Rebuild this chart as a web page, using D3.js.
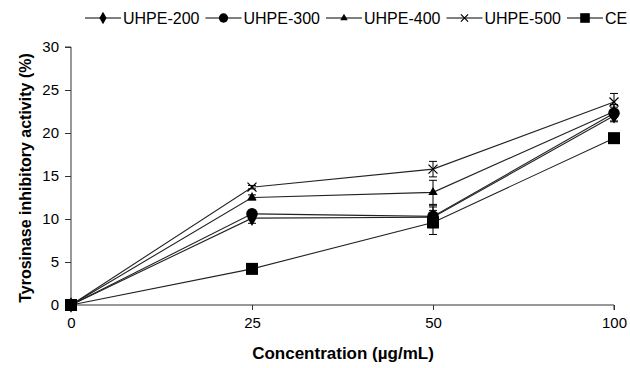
<!DOCTYPE html>
<html>
<head>
<meta charset="utf-8">
<script src="https://cdn.jsdelivr.net/npm/d3@7"></script>
<style>
  body { margin: 0; background: #fff; }
  text { font-family: 'Liberation Sans', Arial, sans-serif; fill: #000; }
</style>
</head>
<body>
<svg id="chart" width="630" height="368"></svg>
<script>
// data
var concentrations = ['0', '25', '50', '100']
var seriesNames = ['UHPE-200', 'UHPE-300', 'UHPE-400', 'UHPE-500', 'CE']
var uhpe200 = [0, 10.1, 10.2, 22.0]
var uhpe300 = [0, 10.6, 10.3, 22.3]
var uhpe400 = [0, 12.5, 13.1, 22.5]
var uhpe500 = [0, 13.7, 15.8, 23.6]
var ce = [0, 4.2, 9.6, 19.4]
var err200 = [0, 0.6, 1.2, 0.6]
var err300 = [0, 0.4, 1.3, 1.0]
var err400 = [0, 0.3, 1.4, 0.5]
var err500 = [0, 0.2, 0.9, 1.0]
var errCE = [0, 0.2, 1.4, 0.4]
var yTicks = [0, 5, 10, 15, 20, 25, 30]

var series = [
  {name: seriesNames[0], values: uhpe200, err: err200, shape: 'diamond'},
  {name: seriesNames[1], values: uhpe300, err: err300, shape: 'circle'},
  {name: seriesNames[2], values: uhpe400, err: err400, shape: 'triangle'},
  {name: seriesNames[3], values: uhpe500, err: err500, shape: 'cross'},
  {name: seriesNames[4], values: ce, err: errCE, shape: 'square'}
]

var svg = d3.select('#chart')

var x = d3.scalePoint()
    .domain(concentrations)
    .range([71, 614])

var y = d3.scaleLinear()
    .domain([0, 30])
    .range([305, 47])

// marker paths, drawn centred on 0,0
function marker (g, shape, big) {
  var k = big ? 1 : 0.8
  if (shape === 'diamond') {
    g.append('path').attr('d', d3.symbol(d3.symbolDiamond, 70 * k * k)())
  } else if (shape === 'circle') {
    g.append('circle').attr('r', 5.8 * k)
  } else if (shape === 'triangle') {
    g.append('path').attr('d', d3.symbol(d3.symbolTriangle, 38 * k * k)())
  } else if (shape === 'cross') {
    var s = 4.5 * k
    g.append('path')
        .attr('d', `M${-s},${-s}L${s},${s}M${-s},${s}L${s},${-s}`)
        .attr('stroke', '#000')
        .attr('stroke-width', 1.2)
        .attr('fill', 'none')
  } else {
    g.append('rect')
        .attr('x', -6 * k).attr('y', -6 * k)
        .attr('width', 12 * k).attr('height', 12 * k)
  }
}

/*
    Axes
*/
var xAxis = d3.axisBottom(x).tickSize(5).tickPadding(7)
var gx = svg.append('g')
    .attr('transform', 'translate(0,305)')
    .call(xAxis)
gx.select('.domain').attr('d', 'M71,0H614V5')
gx.selectAll('text').style('font-size', '15px')

var yAxis = d3.axisLeft(y).tickValues(yTicks).tickSize(6).tickPadding(6)
var gy = svg.append('g')
    .attr('transform', 'translate(71,0)')
    .call(yAxis)
gy.select('.domain').attr('d', 'M-6,47H0V305')
gy.selectAll('text').style('font-size', '15px')

svg.selectAll('.domain, .tick line').attr('stroke', '#333').attr('stroke-width', 1)

svg.append('text')
    .attr('x', 343)
    .attr('y', 359)
    .attr('text-anchor', 'middle')
    .style('font-size', '17px')
    .style('font-weight', 'bold')
    .text('Concentration (µg/mL)')

svg.append('text')
    .attr('transform', 'translate(31,178) rotate(-90)')
    .attr('text-anchor', 'middle')
    .style('font-size', '16px')
    .style('font-weight', 'bold')
    .text('Tyrosinase inhibitory activity (%)')

/*
    Lines, error bars, markers
*/
var line = d3.line()
    .x((d, i) => x(concentrations[i]))
    .y(d => y(d))

var groups = svg.append('g').selectAll('g.series')
    .data(series)
    .join('g')
    .classed('series', true)

groups.append('path')
    .attr('d', d => line(d.values))
    .attr('fill', 'none')
    .attr('stroke', '#222')
    .attr('stroke-width', 1.1)

groups.each(function (s) {
  var g = d3.select(this)
  s.values.forEach(function (v, i) {
    var cx = x(concentrations[i])
    var e = s.err[i]
    if (e > 0) {
      g.append('path')
          .attr('d', `M${cx},${y(v - e)}V${y(v + e)}M${cx - 4},${y(v - e)}H${cx + 4}M${cx - 4},${y(v + e)}H${cx + 4}`)
          .attr('stroke', '#000')
          .attr('stroke-width', 1)
    }
    var m = g.append('g').attr('transform', `translate(${cx},${y(v)})`)
    marker(m, s.shape, true)
  })
})

/*
    Legend
*/
var legend = svg.append('g').selectAll('g.item')
    .data(series)
    .join('g')
    .classed('item', true)
    .attr('transform', (d, i) => `translate(${85 + i * 120.5},18)`)

legend.append('line')
    .attr('x1', 0).attr('x2', 36)
    .attr('stroke', '#000')
    .attr('stroke-width', 1.2)

legend.each(function (s) {
  var m = d3.select(this).append('g').attr('transform', 'translate(18,0)')
  marker(m, s.shape, false)
})

legend.append('text')
    .attr('x', 38)
    .attr('y', 5.5)
    .style('font-size', '16px')
    .text(d => d.name)
</script>
</body>
</html>
